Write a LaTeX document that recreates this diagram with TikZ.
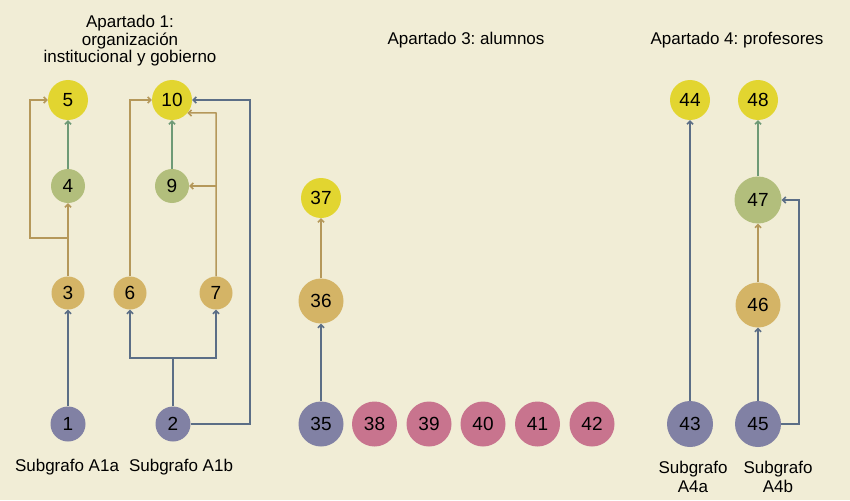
\documentclass[tikz,border=0pt]{standalone}
\usepackage{fontspec}
\setmainfont{Liberation Sans}
\usetikzlibrary{arrows.meta}
\definecolor{bg}{HTML}{F1EDD6}
\definecolor{cyel}{HTML}{E2D530}
\definecolor{ctan}{HTML}{D4B466}
\definecolor{cgrn}{HTML}{B2BE7C}
\definecolor{cpur}{HTML}{8181A4}
\definecolor{cpnk}{HTML}{C8748E}
\definecolor{eblue}{HTML}{5B6E86}
\definecolor{etan}{HTML}{B5985A}
\definecolor{egrn}{HTML}{6E9A76}
\frenchspacing
\begin{document}
\begin{tikzpicture}[x=1pt,y=-1pt,
  every node/.style={font=\fontsize{17}{17}\selectfont, text=black},
  nd/.style={circle, inner sep=0pt, minimum size=#1, font=\fontsize{19}{19}\selectfont},
  yel/.style={nd=40pt, fill=cyel},
  tn/.style={nd=#1, fill=ctan},
  gr/.style={nd=#1, fill=cgrn},
  pu/.style={nd=#1, fill=cpur},
  pk/.style={nd=45pt, fill=cpnk},
  ed/.style={line width=1.5pt, -{Straight Barb[length=3pt,width=6pt]}},
  eb/.style={ed, draw=eblue},
  et/.style={ed, draw=etan},
  eg/.style={ed, draw=egrn},
  ln/.style={line width=1.5pt},
  ttl/.style={align=center, font=\fontsize{17}{17.5}\selectfont},
  sub/.style={align=center, font=\fontsize{17}{19}\selectfont},
]
\fill[bg] (0,0) rectangle (850,500);
\useasboundingbox (0,0) rectangle (850,500);

% titles
\node[ttl] (t1) at (130,41) {Apartado 1:\\organización\\institucional y gobierno};
\node[ttl] (t3) at (466,40) {Apartado 3: alumnos};
\node[ttl] (t4) at (737,40) {Apartado 4: profesores};

% Apartado 1 nodes
\node[pu=35pt] (n1) at (68,424) {1};
\node[pu=35pt] (n2) at (173,424) {2};
\node[tn=33pt] (n3) at (68,293) {3};
\node[tn=33pt] (n6) at (130,293) {6};
\node[tn=33pt] (n7) at (216,293) {7};
\node[gr=34pt] (n4) at (68,186) {4};
\node[gr=34pt] (n9) at (172,186) {9};
\node[yel] (n5) at (68,100) {5};
\node[yel] (n10) at (172,100) {10};

\node (s1a) at (67,467) {Subgrafo A1a};
\node (s1b) at (181,467) {Subgrafo A1b};

% Apartado 3 nodes
\node[pu=45pt] (n35) at (321,424) {35};
\node[tn=45pt] (n36) at (321,301) {36};
\node[yel] (n37) at (321,198) {37};
\node[pk] (n38) at (374.5,424) {38};
\node[pk] (n39) at (429,424) {39};
\node[pk] (n40) at (483,424) {40};
\node[pk] (n41) at (537.5,424) {41};
\node[pk] (n42) at (592,424) {42};

% Apartado 4 nodes
\node[pu=46pt] (n43) at (690,424) {43};
\node[pu=46pt] (n45) at (758,424) {45};
\node[tn=45pt] (n46) at (758,305) {46};
\node[gr=47pt] (n47) at (758,200) {47};
\node[yel] (n44) at (690,100) {44};
\node[yel] (n48) at (758,100) {48};

\node[sub] (s4a) at (693,477) {Subgrafo\\A4a};
\node[sub] (s4b) at (778,477) {Subgrafo\\A4b};

% Apartado 1 edges
\draw[eb] (n1) -- (n3);
\draw[et] (n3) -- (n4);
\coordinate (k3) at (68,238);
\coordinate (k35) at (30,238);
\draw[et] (k3) -- (k35) |- (n5.west);
\draw[eg] (n4) -- (n5);

\coordinate (k2) at (173,358);
\draw[ln, draw=eblue] (n2.north) -- (k2);
\draw[eb] (k2) -| (n6.south);
\draw[eb] (k2) -| (n7.south);
\coordinate (k210) at (250,424);
\draw[eb] (n2.east) -- (k210) |- (n10.east);

\draw[et] (n6.north) |- (n10.west);
\coordinate (k7) at (216,113);
\coordinate (k79) at (216,186);
\draw[et] (n7.north) -- (k7) -- (n10.-40);
\draw[et] (k79) -- (n9.east);
\draw[eg] (n9) -- (n10);

% Apartado 3 edges
\draw[eb] (n35) -- (n36);
\draw[et] (n36) -- (n37);

% Apartado 4 edges
\draw[eb] (n43) -- (n44);
\draw[eb] (n45) -- (n46);
\draw[et] (n46) -- (n47);
\draw[eg] (n47) -- (n48);
\coordinate (k45) at (799,424);
\draw[eb] (n45.east) -- (k45) |- (n47.east);
\end{tikzpicture}
\end{document}
